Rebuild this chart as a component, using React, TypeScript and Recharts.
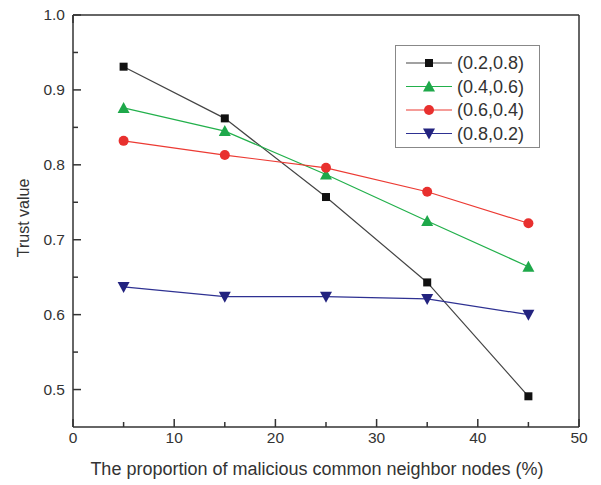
import React from 'react';
import { LineChart, Line, XAxis, YAxis, Label, Legend } from 'recharts';

const proportions = [5, 15, 25, 35, 45];
const series0208 = [0.931, 0.862, 0.757, 0.643, 0.491];
const series0406 = [0.876, 0.845, 0.787, 0.725, 0.664];
const series0604 = [0.832, 0.813, 0.796, 0.764, 0.722];
const series0802 = [0.637, 0.624, 0.624, 0.621, 0.6];
const seriesNames = ['(0.2,0.8)', '(0.4,0.6)', '(0.6,0.4)', '(0.8,0.2)'];
const xTicks = [0, 5, 10, 15, 20, 25, 30, 35, 40, 45, 50];
const yTicks = [0.5, 0.55, 0.6, 0.65, 0.7, 0.75, 0.8, 0.85, 0.9, 0.95, 1.0];
const xTitle = 'The proportion of malicious common neighbor nodes (%)';
const yTitle = 'Trust value';

const data = proportions.map((p, i) => ({
  x: p,
  a: series0208[i],
  b: series0406[i],
  c: series0604[i],
  d: series0802[i],
}));

const FONT = '"Liberation Sans", Arial, sans-serif';
const AXIS = '#333';
const TEXT = '#333';
const GAP = 8;
const MAJOR = 8;
const MINOR = 5;

const COLORS = { a: '#444444', b: '#22b04b', c: '#ec3a33', d: '#2e3192' };
const MARK = { a: '#111111', b: '#1ea84a', c: '#e8302e', d: '#23237f' };

const isMajorX = (v: number) => Math.abs(v % 10) < 1e-6;
const isMajorY = (v: number) => Math.abs(v * 10 - Math.round(v * 10)) < 1e-6;

function BottomTick(props: any) {
  const { x, y, payload } = props;
  const v = payload.value;
  const major = isMajorX(v);
  const ay = y - GAP;
  return (
    <g>
      <line x1={x} x2={x} y1={ay} y2={ay - (major ? MAJOR : MINOR)} stroke={AXIS} strokeWidth={1.5} />
      {major && (
        <text x={x} y={y + 8} textAnchor="middle" fontSize={15.5} fontFamily={FONT} fill={TEXT}>
          {String(v)}
        </text>
      )}
    </g>
  );
}

function TopTick(props: any) {
  const { x, y, payload } = props;
  const major = isMajorX(payload.value);
  const ay = y + GAP;
  return <line x1={x} x2={x} y1={ay} y2={ay + (major ? MAJOR : MINOR)} stroke={AXIS} strokeWidth={1.5} />;
}

function LeftTick(props: any) {
  const { x, y, payload } = props;
  const v = payload.value;
  const major = isMajorY(v);
  const ax = x + GAP;
  return (
    <g>
      <line x1={ax} x2={ax + (major ? MAJOR : MINOR)} y1={y} y2={y} stroke={AXIS} strokeWidth={1.5} />
      {major && (
        <text x={x} y={y} dy="0.35em" textAnchor="end" fontSize={15.5} fontFamily={FONT} fill={TEXT}>
          {v.toFixed(1)}
        </text>
      )}
    </g>
  );
}

function RightTick(props: any) {
  const { x, y, payload } = props;
  const major = isMajorY(payload.value);
  const ax = x - GAP;
  return <line x1={ax} x2={ax - (major ? MAJOR : MINOR)} y1={y} y2={y} stroke={AXIS} strokeWidth={1.5} />;
}

function Marker({ kind, cx, cy }: { kind: string; cx: number; cy: number }) {
  if (kind === 'a') {
    return <rect x={cx - 4} y={cy - 4} width={8} height={8} fill={MARK.a} />;
  }
  if (kind === 'b') {
    return <polygon points={`${cx},${cy - 6} ${cx - 6},${cy + 5} ${cx + 6},${cy + 5}`} fill={MARK.b} />;
  }
  if (kind === 'c') {
    return <circle cx={cx} cy={cy} r={5} fill={MARK.c} />;
  }
  return <polygon points={`${cx - 6},${cy - 5} ${cx + 6},${cy - 5} ${cx},${cy + 6}`} fill={MARK.d} />;
}

const makeDot = (kind: string) => (p: any) => (
  <Marker key={`${kind}-${p.index}`} kind={kind} cx={p.cx} cy={p.cy} />
);

function LegendBox(props: any) {
  const payload = props.payload || [];
  return (
    <div
      style={{
        width: 145,
        height: 103,
        border: '1.5px solid #888',
        boxSizing: 'border-box',
        background: '#fff',
      }}
    >
      <svg width={143} height={100} style={{ display: 'block' }}>
        {payload.map((entry: any, i: number) => {
          const cy = 17 + i * 23.5;
          const kind = entry.dataKey as string;
          return (
            <g key={kind}>
              <line x1={10} x2={56} y1={cy} y2={cy} stroke={entry.color} strokeWidth={1.2} />
              <Marker kind={kind} cx={33} cy={cy} />
              <text x={61} y={cy} dy="0.36em" fontSize={18} fontFamily={FONT} fill={TEXT}>
                {entry.value}
              </text>
            </g>
          );
        })}
      </svg>
    </div>
  );
}

export default function App() {
  return (
    <div style={{ position: 'absolute', left: 0, top: 0, background: '#fff' }}>
      <LineChart width={601} height={485} data={data} margin={{ top: 0, right: 0, bottom: 0, left: 0 }}>
        <XAxis
          xAxisId="bottom"
          dataKey="x"
          type="number"
          domain={[0, 50]}
          ticks={xTicks}
          interval={0}
          height={58}
          tickLine={false}
          tickSize={0}
          tickMargin={GAP}
          axisLine={{ stroke: AXIS, strokeWidth: 1.5 }}
          tick={<BottomTick />}
        >
          <Label
            value={xTitle}
            position="insideBottom"
            offset={10}
            dx={-9}
            style={{ fontSize: 18, fontFamily: FONT, fill: TEXT }}
          />
        </XAxis>
        <XAxis
          xAxisId="top"
          orientation="top"
          type="number"
          domain={[0, 50]}
          ticks={xTicks}
          interval={0}
          height={15}
          tickLine={false}
          tickSize={0}
          tickMargin={GAP}
          axisLine={{ stroke: AXIS, strokeWidth: 1.5 }}
          tick={<TopTick />}
        />
        <YAxis
          yAxisId="left"
          type="number"
          domain={[0.45, 1.0]}
          ticks={yTicks}
          interval={0}
          width={73}
          tickLine={false}
          tickSize={0}
          tickMargin={GAP}
          axisLine={{ stroke: AXIS, strokeWidth: 1.5 }}
          tick={<LeftTick />}
        >
          <Label
            value={yTitle}
            position="center"
            angle={-90}
            dx={-13}
            dy={-3}
            style={{ fontSize: 16, fontFamily: FONT, fill: TEXT, textAnchor: 'middle' }}
          />
        </YAxis>
        <YAxis
          yAxisId="right"
          orientation="right"
          type="number"
          domain={[0.45, 1.0]}
          ticks={yTicks}
          interval={0}
          width={22}
          tickLine={false}
          tickSize={0}
          tickMargin={GAP}
          axisLine={{ stroke: AXIS, strokeWidth: 1.5 }}
          tick={<RightTick />}
        />
        <Legend
          layout="horizontal"
          align="center"
          verticalAlign="middle"
          content={<LegendBox />}
          wrapperStyle={{ position: 'absolute', left: 395, top: 45, width: 145, height: 103 }}
        />
        <Line xAxisId="bottom" yAxisId="left" dataKey="a" name={seriesNames[0]} stroke={COLORS.a} strokeWidth={1.2} dot={makeDot('a')} activeDot={false} isAnimationActive={false} />
        <Line xAxisId="bottom" yAxisId="left" dataKey="b" name={seriesNames[1]} stroke={COLORS.b} strokeWidth={1.2} dot={makeDot('b')} activeDot={false} isAnimationActive={false} />
        <Line xAxisId="bottom" yAxisId="left" dataKey="c" name={seriesNames[2]} stroke={COLORS.c} strokeWidth={1.2} dot={makeDot('c')} activeDot={false} isAnimationActive={false} />
        <Line xAxisId="bottom" yAxisId="left" dataKey="d" name={seriesNames[3]} stroke={COLORS.d} strokeWidth={1.2} dot={makeDot('d')} activeDot={false} isAnimationActive={false} />
      </LineChart>
    </div>
  );
}
